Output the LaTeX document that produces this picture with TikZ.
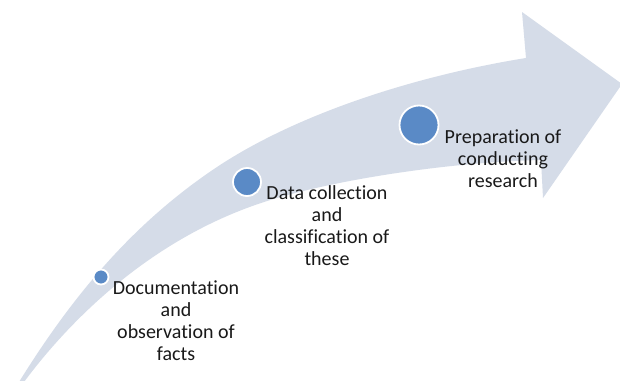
\documentclass[tikz,border=0pt]{standalone}
\usepackage{fontspec}
\setmainfont{Carlito}[RawFeature={-liga;-clig}]
\definecolor{bandcol}{HTML}{D5DCE8}
\definecolor{dotcol}{HTML}{5A8AC6}
\begin{document}
\begin{tikzpicture}[x=1pt,y=-1pt,
  dot/.style={circle,fill=dotcol,draw=white,line width=1.8pt,inner sep=0pt},
  label/.style={align=center,inner sep=0pt,font=\fontsize{20}{22}\selectfont,text=black!90}]
\useasboundingbox (0,0) rectangle (620,380);
\fill[white] (0,0) rectangle (620,380);
% curved arrow
\fill[bandcol] (19,382) .. controls (70,300) and (130,225) .. (217,167)
  .. controls (300,112) and (420,75) .. (526,58)
  -- (522,12) -- (622,84) -- (543,198) -- (541,160)
  .. controls (450,162) and (330,180) .. (261,203)
  .. controls (150,240) and (70,320) .. (24,382) -- cycle;
% dots
\node[dot,minimum size=15pt] (c1) at (101,277) {};
\node[dot,minimum size=28pt] (c2) at (247,182) {};
\node[dot,minimum size=39pt] (c3) at (419,125) {};
% labels
\node[label] (t1) at (176,321) {Documentation\\and\\observation of\\facts};
\node[label] (t2) at (327,226) {Data collection\\and\\classification of\\these};
\node[label] (t3) at (503,159) {Preparation of\\conducting\\research};
\end{tikzpicture}
\end{document}
